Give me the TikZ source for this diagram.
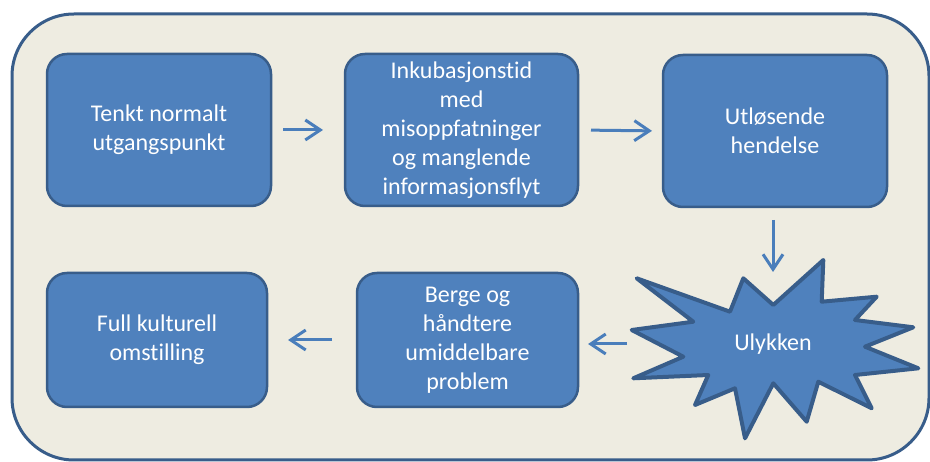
\documentclass[tikz,border=0pt]{standalone}
\usepackage{fontspec}
\setmainfont{Carlito}[Ligatures={NoCommon}]
\usetikzlibrary{arrows.meta}
\definecolor{bg}{HTML}{EEECE1}
\definecolor{boxfill}{HTML}{4F81BD}
\definecolor{boxline}{HTML}{385D8A}
\definecolor{arrowc}{HTML}{4A7EBB}
\begin{document}
\begin{tikzpicture}[x=1pt,y=-1pt,
  stepbox/.style={draw=boxline, fill=boxfill, line width=2.5pt, rounded corners=20pt,
    inner sep=0pt, outer sep=0pt, align=center, text=white,
    font=\fontsize{24}{29}\selectfont},
  conn/.style={draw=arrowc, line width=3pt, -{Straight Barb[length=15pt,width=20pt]}},
  burst/.style={draw=boxline, fill=boxfill, line width=4pt, line join=round}]
\useasboundingbox (0,0) rectangle (930,462);
\fill[white] (0,0) rectangle (930,462);
\draw[draw=boxline, fill=bg, line width=3pt, rounded corners=62pt] (12,14) rectangle (929,460);

\node[stepbox, minimum width=224pt, minimum height=152pt] (b1) at (159,130) {Tenkt normalt\\utgangspunkt};
\node[stepbox, minimum width=233pt, minimum height=152pt] (b2) at (461.5,130) {Inkubasjonstid\\med\\misoppfatninger\\og manglende\\informasjonsflyt};
\node[stepbox, minimum width=224pt, minimum height=152pt] (b3) at (775,131) {Utløsende\\hendelse};
\node[stepbox, minimum width=220pt, minimum height=134pt] (b4) at (157,340) {Full kulturell\\omstilling};
\node[stepbox, minimum width=221pt, minimum height=134pt] (b5) at (467.5,340) {Berge og\\håndtere\\umiddelbare\\problem};

\draw[burst] (636.7,278.3) -- (730,311.7) -- (743.3,278.3) -- (773.3,305) -- (823.3,260)
  -- (821.7,301.7) -- (876.7,296.7) -- (855,320) -- (913.3,327.3) -- (865,346.7)
  -- (918.3,368.3) -- (855,375) -- (871.7,408.3) -- (818.3,381.7) -- (806.7,421.7)
  -- (773.3,383.3) -- (745,438.3) -- (735,388.3) -- (695,405) -- (708.3,375)
  -- (633.3,378.3) -- (683.3,356.7) -- (631.7,330) -- (693.3,321.7) -- cycle;
\node[inner sep=0pt, outer sep=0pt, minimum width=290pt, minimum height=144pt,
  text=white, font=\fontsize{24}{29}\selectfont] (u) at (773,344) {Ulykken};

\draw[conn, shorten <=12pt, shorten >=22pt] (b1.east) -- (b2.west);
\draw[conn, shorten <=13pt, shorten >=11pt] (b2.east) -- (b3.west);
\draw[conn, shorten <=13pt] (b3.south -| u.north) -- (u.north);
\draw[conn, shorten <=1pt, shorten >=10pt] (u.west) -- (u.west -| b5.east);
\draw[conn, shorten <=25pt, shorten >=21pt] (b5.west) -- (b4.east);
\end{tikzpicture}
\end{document}
